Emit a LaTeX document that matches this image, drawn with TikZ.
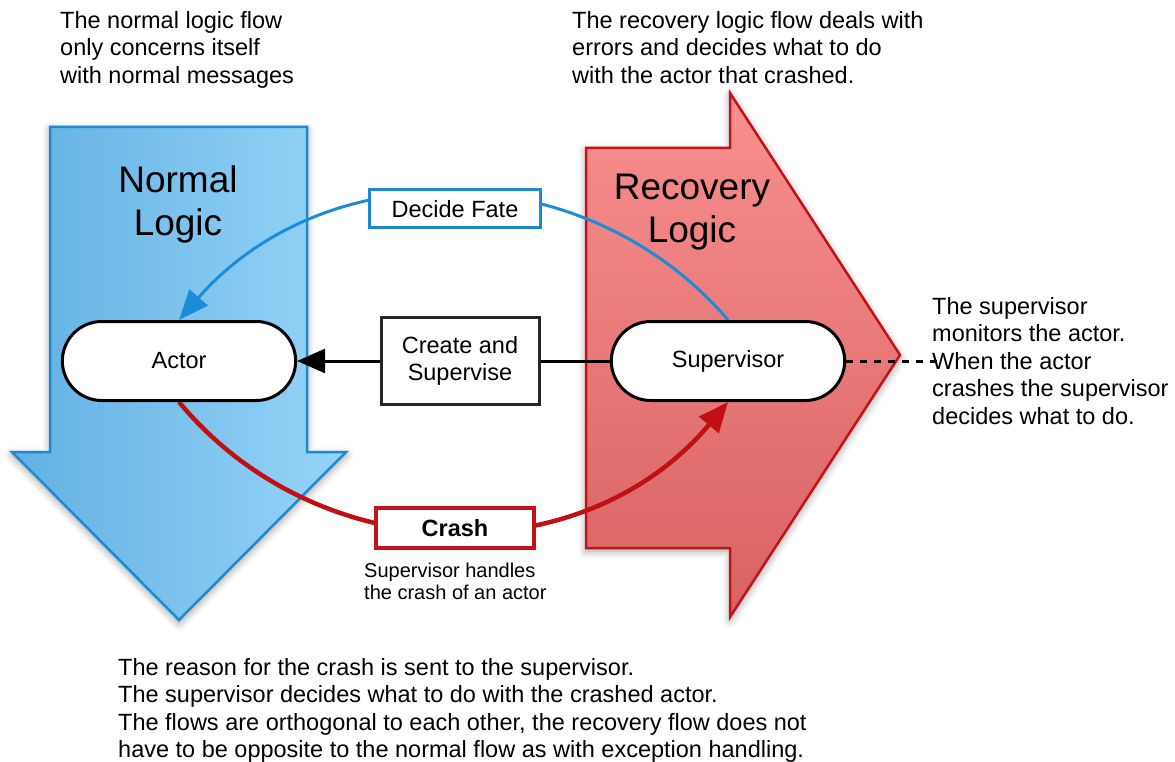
\documentclass[tikz,border=0pt]{standalone}
\usepackage{fontspec}
\setmainfont{Liberation Sans}
\usetikzlibrary{arrows.meta,shapes.misc,shadows.blur}

\definecolor{normalL}{HTML}{62B1E3}
\definecolor{normalR}{HTML}{96D4F7}
\definecolor{normalEdge}{HTML}{1B8AD0}
\definecolor{recovT}{HTML}{F98F90}
\definecolor{recovB}{HTML}{D86262}
\definecolor{recovEdge}{HTML}{C0141A}
\definecolor{fateLine}{HTML}{1A8DD6}
\definecolor{crashLine}{HTML}{C01014}

\pgfdeclarelayer{bg}
\pgfdeclarelayer{mid}
\pgfsetlayers{bg,mid,main}

\tikzset{
  txt/.style={font=\fontsize{23.5}{27.5}\selectfont, align=left, anchor=north west, inner sep=0pt},
  smalltxt/.style={font=\fontsize{20}{22}\selectfont, align=left, anchor=north west, inner sep=0pt},
  bigtxt/.style={font=\fontsize{37}{43}\selectfont, align=center, inner sep=0pt},
  pill/.style={rounded rectangle, draw=black, fill=white, line width=3pt,
    minimum width=240pt, minimum height=79pt, font=\fontsize{23.5}{27.5}\selectfont},
  msgbox/.style={rectangle, fill=white, line width=3pt, inner sep=0pt,
    font=\fontsize{23.5}{27.5}\selectfont, align=center},
  flowshadow/.style={blur shadow={shadow xshift=0pt, shadow yshift=-3pt,
    shadow blur radius=8pt, shadow opacity=40}},
}

\begin{document}
\begin{tikzpicture}[x=1pt,y=-1pt]
\useasboundingbox (0,0) rectangle (1175,762);

% participants
\node[pill] (actor) at (179,361) {Actor};
\node[pill] (sup) at (728,361) {Supervisor};
\node[msgbox, draw=normalEdge, minimum width=171pt, minimum height=38pt] (fate) at (455,209) {Decide Fate};
\node[msgbox, draw=black!85, minimum width=158pt, minimum height=87pt] (create) at (460,361) {Create and\\Supervise};
\node[msgbox, draw=recovEdge, line width=3.5pt, minimum width=158pt, minimum height=40pt,
  font=\fontsize{23.5}{27.5}\selectfont\bfseries] (crash) at (455,528) {Crash};

% flow arrows
\begin{pgfonlayer}{bg}
\path[flowshadow, left color=normalL, right color=normalR, draw=normalEdge, line width=2.5pt]
  (50,127) -- (307,127) -- (307,452) -- (346,452) -- (179,620) -- (12,452) -- (50,452) -- cycle;
\path[flowshadow, top color=recovT, bottom color=recovB, draw=recovEdge, line width=2.5pt]
  (586,148) -- (730,148) -- (730,93) -- (900,355) -- (730,617) -- (730,548) -- (586,548) -- cycle;
\end{pgfonlayer}

% connectors
\begin{pgfonlayer}{mid}
\draw[fateLine, line width=3pt, -{Triangle[length=30pt,width=24pt]}]
  (sup.north) .. controls (585,153) and (325,153) .. (actor.north);
\draw[crashLine, line width=4.5pt, -{Triangle[length=30pt,width=25pt]}]
  (actor.south) .. controls (321,573) and (585,573) .. (sup.south);
\coordinate (dotend) at (937,361);
\draw[black, line width=3pt, dash pattern=on 7pt off 7pt] (sup.east) -- (dotend);
\end{pgfonlayer}

\draw[black, line width=3pt] (sup.west) -- (create.east);
\draw[black, line width=3pt, -{Triangle[length=28pt,width=24pt]}] (create.west) -- (actor.east);

% titles and notes
\node[bigtxt] (ntitle) at (178,204) {Normal\\Logic};
\node[bigtxt] (rtitle) at (692,212) {Recovery\\Logic};

\node[txt] (nnote) at (60,11) {The normal logic flow\\only concerns itself\\with normal messages};
\node[txt] (rnote) at (572,11) {The recovery logic flow deals with\\errors and decides what to do\\with the actor that crashed.};
\node[txt] (snote) at (932,297) {The supervisor\\monitors the actor.\\When the actor\\crashes the supervisor\\decides what to do.};
\node[smalltxt] (cnote) at (364,563) {Supervisor handles\\the crash of an actor};
\node[txt] (bnote) at (118,658) {The reason for the crash is sent to the supervisor.\\The supervisor decides what to do with the crashed actor.\\The flows are orthogonal to each other, the recovery flow does not\\have to be opposite to the normal flow as with exception handling.};
\end{tikzpicture}
\end{document}
